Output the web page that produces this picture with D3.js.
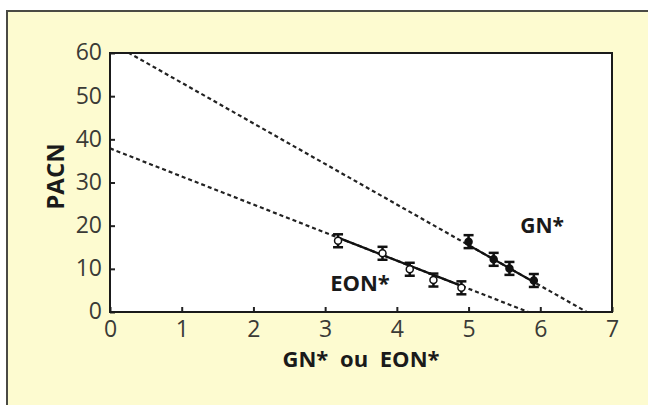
<!DOCTYPE html>
<html>
<head>
<meta charset="utf-8">
<script src="https://cdn.jsdelivr.net/npm/d3@7"></script>
<style>
  html, body { margin: 0; padding: 0; background: #fff; }
  svg { display: block; font-family: "Open Sans", sans-serif; }
</style>
</head>
<body>
<div id="chart"></div>
<script>
// values
const xTicks = [0, 1, 2, 3, 4, 5, 6, 7];
const yTicks = [0, 10, 20, 30, 40, 50, 60];

const eonX = [3.18, 3.8, 4.18, 4.51, 4.9];
const eonY = [16.5, 13.6, 9.9, 7.4, 5.6];
const eonErr = [1.5, 1.5, 1.5, 1.5, 1.5];

const gnX = [5.0, 5.35, 5.57, 5.91];
const gnY = [16.3, 12.2, 10.1, 7.3];
const gnErr = [1.5, 1.5, 1.5, 1.5];

// regression lines: [intercept, slope]
const eonFit = [37.9, -6.5];
const gnFit = [62.5, -9.4];

const width = 648;
const height = 405;
const margin = { top: 53, right: 36, bottom: 93, left: 110 };
const plotW = width - margin.left - margin.right;
const plotH = height - margin.top - margin.bottom;

const svg = d3.select('#chart').append('svg')
  .attr('width', width)
  .attr('height', height);

// yellow frame
svg.append('rect')
  .attr('x', 7).attr('y', 11)
  .attr('width', width).attr('height', height)
  .attr('fill', '#fdfbd0')
  .attr('stroke', '#4a4a44')
  .attr('stroke-width', 2);

const g = svg.append('g')
  .attr('transform', `translate(${margin.left},${margin.top})`);

const x = d3.scaleLinear().domain([0, 7]).range([0, plotW]);
const y = d3.scaleLinear().domain([0, 60]).range([plotH, 0]);

g.append('rect')
  .attr('width', plotW).attr('height', plotH)
  .attr('fill', '#fff');

g.append('clipPath').attr('id', 'plot-clip')
  .append('rect').attr('width', plotW).attr('height', plotH);

// dashed extrapolations to both axes
const fitLine = d3.line().x(d => x(d[0])).y(d => y(d[1]));
[eonFit, gnFit].forEach(fit => {
  const xEnd = -fit[0] / fit[1];
  g.append('path')
    .datum([[0, fit[0]], [xEnd, 0]])
    .attr('clip-path', 'url(#plot-clip)')
    .attr('fill', 'none')
    .attr('stroke', '#222')
    .attr('stroke-width', 2.2)
    .attr('stroke-dasharray', '4,3')
    .attr('d', fitLine);
});

// solid part over the measured range
[[eonFit, eonX], [gnFit, gnX]].forEach(([fit, xs]) => {
  const x0 = d3.min(xs), x1 = d3.max(xs);
  g.append('path')
    .datum([[x0, fit[0] + fit[1] * x0], [x1, fit[0] + fit[1] * x1]])
    .attr('fill', 'none')
    .attr('stroke', '#111')
    .attr('stroke-width', 2.2)
    .attr('d', fitLine);
});

function drawSeries(xs, ys, errs, fill) {
  const pts = xs.map((v, i) => ({ x: v, y: ys[i], e: errs[i] }));
  const s = g.append('g').selectAll('g').data(pts).join('g')
    .attr('stroke', '#111')
    .attr('stroke-width', 2.5);
  s.append('line')
    .attr('x1', d => x(d.x)).attr('x2', d => x(d.x))
    .attr('y1', d => y(d.y - d.e)).attr('y2', d => y(d.y + d.e));
  s.append('line')
    .attr('x1', d => x(d.x) - 5).attr('x2', d => x(d.x) + 5)
    .attr('y1', d => y(d.y + d.e)).attr('y2', d => y(d.y + d.e));
  s.append('line')
    .attr('x1', d => x(d.x) - 5).attr('x2', d => x(d.x) + 5)
    .attr('y1', d => y(d.y - d.e)).attr('y2', d => y(d.y - d.e));
  s.append('circle')
    .attr('cx', d => x(d.x)).attr('cy', d => y(d.y))
    .attr('r', 3.5)
    .attr('fill', fill)
    .attr('stroke-width', 1.5);
}
drawSeries(eonX, eonY, eonErr, '#fff');
drawSeries(gnX, gnY, gnErr, '#111');

// axes, ticks pointing inside
const xAxis = g.append('g')
  .attr('transform', `translate(0,${plotH})`)
  .call(d3.axisBottom(x).tickValues(xTicks).tickFormat(d3.format('d'))
    .tickSizeInner(-5).tickSizeOuter(0).tickPadding(11));
const yAxis = g.append('g')
  .call(d3.axisLeft(y).tickValues(yTicks).tickFormat(d3.format('d'))
    .tickSizeInner(-5).tickSizeOuter(0).tickPadding(8));
[xAxis, yAxis].forEach(a => {
  a.select('.domain').remove();
  a.selectAll('line').attr('stroke', '#222').attr('stroke-width', 2);
  a.selectAll('text')
    .style('font-family', '"Open Sans", sans-serif')
    .style('font-size', '23px')
    .attr('fill', '#3a3a36');
});
xAxis.selectAll('text').attr('dy', '0.62em');
yAxis.selectAll('text').attr('dy', '0.3em');

g.append('rect')
  .attr('width', plotW).attr('height', plotH)
  .attr('fill', 'none')
  .attr('stroke', '#1a1a1a')
  .attr('stroke-width', 2);

// titles
g.append('text')
  .attr('text-anchor', 'middle')
  .attr('transform', `translate(${-46},${plotH / 2 - 6}) rotate(-90)`)
  .style('font-size', '24px')
  .style('font-weight', 'bold')
  .attr('fill', '#1a1a1a')
  .text('PACN');

g.append('text')
  .attr('text-anchor', 'middle')
  .attr('x', plotW / 2)
  .attr('y', plotH + 55)
  .style('font-size', '22px')
  .style('font-weight', 'bold')
  .style('word-spacing', '6px')
  .attr('fill', '#1a1a1a')
  .text('GN* ou EON*');

g.append('text')
  .attr('x', x(5.72))
  .attr('y', y(18.3))
  .style('font-size', '21px')
  .style('font-weight', 'bold')
  .attr('fill', '#1a1a1a')
  .text('GN*');

g.append('text')
  .attr('x', x(3.07))
  .attr('y', y(4.9))
  .style('font-size', '22px')
  .style('font-weight', 'bold')
  .attr('fill', '#1a1a1a')
  .text('EON*');
</script>
</body>
</html>
